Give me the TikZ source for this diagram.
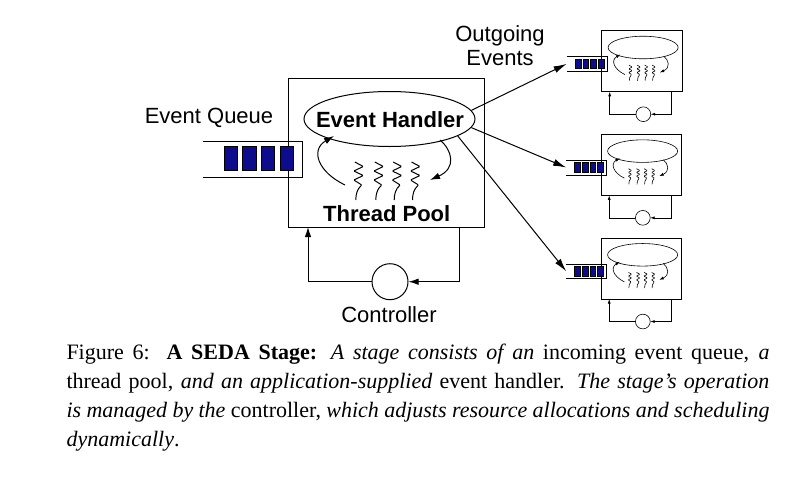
\documentclass[tikz,border=0pt]{standalone}
\usepackage{fontspec}
\setmainfont{Liberation Serif}
\newfontfamily\labfont{Liberation Sans}
\usetikzlibrary{arrows.meta,shapes.geometric}
\definecolor{qblue}{RGB}{12,12,140}
\tikzset{
  blk/.style={draw=black, fill=qblue},
  mtip/.style={-{Latex[length=10pt,width=6.5pt]}},
  otip/.style={-{Latex[length=13pt,width=7pt]}},
  stip/.style={-{Latex[length=4.5pt,width=3pt]}},
  lbl/.style={font=\labfont\fontsize{22}{24}\selectfont, inner sep=0},
  blbl/.style={font=\labfont\bfseries\fontsize{22}{24}\selectfont, inner sep=0},
}
% parts common to the big and the small stages, in stage units
\newcommand\stagebody[1]{%
  \draw (-85,63) -- (14,63) -- (14,99) -- (-85,99);
  \foreach \i in {0,1,2,3} \draw[blk] ({-64+18.7*\i},68.7) rectangle ++(13.5,24);
  \foreach \x in {70.3,90.3,108.7,127}
    \draw[rounded corners=0.9pt] (\x-3.5,84) -- (\x+5,88.5) -- (\x-4.5,93) -- (\x+5,97.5) -- (\x-4.5,102) -- (\x+3.5,107)
      .. controls (\x-1,111) and (\x-2.5,116) .. (\x-2.5,122);
  \draw[#1] (57,107) .. controls (30,94) and (22,72) .. (46,58);
  \draw[#1] (152,62) .. controls (164,72) and (169,90) .. (142,102);
}
\newcommand\smallstage[2]{%
  \begin{scope}[shift={#2}, scale=0.41, line width=0.6pt]
    \draw (0,0) rectangle (196,149);
    \draw (101.5,41) ellipse [x radius=85.5, y radius=27.5];
    \stagebody{stip}
    \draw (102,203.7) circle [radius=18];
    \draw[stip] (171,149) |- (120,203.7);
    \draw[stip] (84,203.7) -| (20,149);
    \coordinate (#1-in) at (-85,81);
  \end{scope}}
\begin{document}
\begin{tikzpicture}[x=1pt, y=-1pt, line width=1pt]
  \fill[white] (0,0) rectangle (786,479);
  \useasboundingbox (0,0) rectangle (786,479);

  % main stage
  \node[draw, minimum width=196pt, minimum height=149pt, inner sep=0, anchor=north west] (stage) at (288,78) {};
  \begin{scope}[shift={(288,78)}]
    \stagebody{mtip}
  \end{scope}
  \node[ellipse, draw, minimum width=171pt, minimum height=55pt, inner sep=0] (handler) at (389.5,119) {};
  \node[blbl, anchor=base] (hname) at (390,127.3) {Event Handler};
  \node[blbl, anchor=base] (tpool) at (386.7,221.7) {Thread Pool};
  \node[lbl, anchor=base] (qlabel) at (209,123.3) {Event Queue};
  \node[lbl, align=center, anchor=north] (outlabel) at (500,25) {Outgoing\\Events};

  % controller
  \node[draw, circle, minimum size=36pt, inner sep=0] (ctrl) at (390,281.7) {};
  \coordinate (cout) at (459,227);
  \coordinate (cin) at (308,227);
  \draw[mtip] (cout) |- (ctrl);
  \draw[mtip] (ctrl) -| (cin);
  \node[lbl, anchor=base] (clabel) at (389,322) {Controller};

  % downstream stages
  \smallstage{s1}{(601.5,30.7)}
  \smallstage{s2}{(601,134.3)}
  \smallstage{s3}{(601,238)}
  \draw[otip] (handler.6) -- (s1-in);
  \draw[otip] (handler.-6) -- (s2-in);
  \draw[otip] (handler.-14) -- (s3-in);

  % caption
  \node[anchor=north west, inner sep=0, text width=703pt, align=justify,
        font=\fontsize{22}{29}\selectfont] (caption) at (66,344)
    {Figure 6:\hspace{0.15em} \textbf{A SEDA Stage:} \textit{A stage consists of an} incoming event queue, \textit{a}\linebreak
     thread pool, \textit{and an application-supplied} event handler. \textit{The stage's operation}\linebreak
     \textit{is managed by the} controller, \textit{which adjusts resource allocations and scheduling}\linebreak
     \textit{dynamically}.};
\end{tikzpicture}
\end{document}
